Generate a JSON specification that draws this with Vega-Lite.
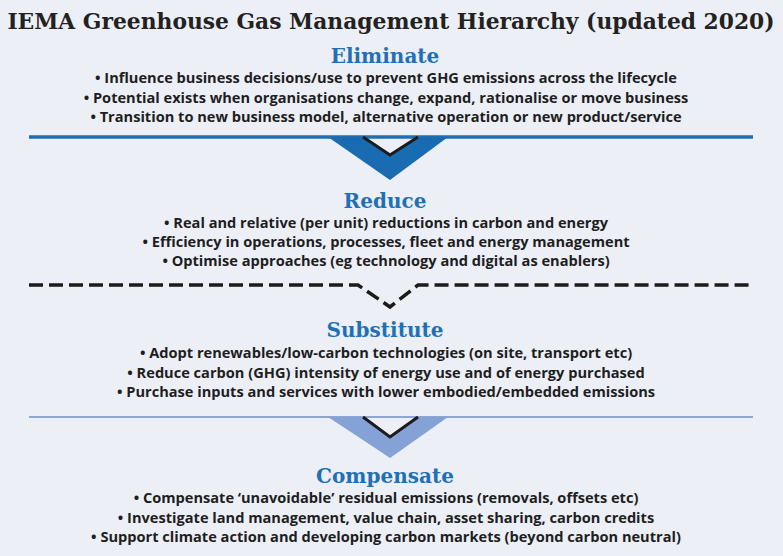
{
  "$schema": "https://vega.github.io/schema/vega-lite/v6.json",
  "width": 783,
  "height": 556,
  "autosize": {"type": "none"},
  "padding": 0,
  "background": "#edeff7",
  "config": {"view": {"stroke": null}},
  "datasets": {
    "chevBlue": [
      {"x": 328, "top": 137, "bot": 137},
      {"x": 363, "top": 137, "bot": 161.3},
      {"x": 390, "top": 155, "bot": 180},
      {"x": 418, "top": 137, "bot": 159.2},
      {"x": 448, "top": 137, "bot": 137}
    ],
    "chevLight": [
      {"x": 328, "top": 417, "bot": 417},
      {"x": 363, "top": 417, "bot": 440.1},
      {"x": 390, "top": 437, "bot": 458},
      {"x": 418, "top": 417, "bot": 438.2},
      {"x": 448, "top": 417, "bot": 417}
    ],
    "innerV": [
      {"g": "a", "o": 1, "x": 363, "y": 137},
      {"g": "a", "o": 2, "x": 390, "y": 155},
      {"g": "a", "o": 3, "x": 418, "y": 137},
      {"g": "b", "o": 1, "x": 363, "y": 417},
      {"g": "b", "o": 2, "x": 390, "y": 437},
      {"g": "b", "o": 3, "x": 418, "y": 417}
    ],
    "rules": [
      {"x": 29, "x2": 753, "y": 137, "c": "blue"},
      {"x": 29, "x2": 753, "y": 417, "c": "light"}
    ],
    "dashed": [
      {"o": 1, "x": 29, "y": 285},
      {"o": 2, "x": 358, "y": 285},
      {"o": 3, "x": 390, "y": 307},
      {"o": 4, "x": 418, "y": 285},
      {"o": 5, "x": 753, "y": 285}
    ],
    "title": [
      {"x": 391, "y": 22, "text": "IEMA Greenhouse Gas Management Hierarchy (updated 2020)"}
    ],
    "heads": [
      {"x": 385, "y": 57, "text": "Eliminate"},
      {"x": 385, "y": 202, "text": "Reduce"},
      {"x": 385, "y": 331, "text": "Substitute"},
      {"x": 385, "y": 477, "text": "Compensate"}
    ],
    "bullets": [
      {"x": 386, "y": 79, "text": "• Influence business decisions/use to prevent GHG emissions across the lifecycle"},
      {"x": 386, "y": 98.5, "text": "• Potential exists when organisations change, expand, rationalise or move business"},
      {"x": 386, "y": 117.5, "text": "• Transition to new business model, alternative operation or new product/service"},
      {"x": 386, "y": 224, "text": "• Real and relative (per unit) reductions in carbon and energy"},
      {"x": 386, "y": 243, "text": "• Efficiency in operations, processes, fleet and energy management"},
      {"x": 386, "y": 262, "text": "• Optimise approaches (eg technology and digital as enablers)"},
      {"x": 386, "y": 354, "text": "• Adopt renewables/low-carbon technologies (on site, transport etc)"},
      {"x": 386, "y": 373.5, "text": "• Reduce carbon (GHG) intensity of energy use and of energy purchased"},
      {"x": 386, "y": 393, "text": "• Purchase inputs and services with lower embodied/embedded emissions"},
      {"x": 386, "y": 499, "text": "• Compensate ‘unavoidable’ residual emissions (removals, offsets etc)"},
      {"x": 386, "y": 518.5, "text": "• Investigate land management, value chain, asset sharing, carbon credits"},
      {"x": 386, "y": 538, "text": "• Support climate action and developing carbon markets (beyond carbon neutral)"}
    ]
  },
  "layer": [
    {
      "data": {"name": "rules"},
      "mark": {"type": "rule"},
      "encoding": {
        "x": {"field": "x", "type": "quantitative", "scale": {"domain": [0, 783], "nice": false, "zero": false}, "axis": null},
        "x2": {"field": "x2"},
        "y": {"field": "y", "type": "quantitative", "scale": {"domain": [0, 556], "reverse": true, "nice": false, "zero": false}, "axis": null},
        "color": {"field": "c", "type": "nominal", "scale": {"domain": ["blue", "light"], "range": ["#1f6fb3", "#8ea7d2"]}, "legend": null},
        "strokeWidth": {"field": "c", "type": "nominal", "scale": {"domain": ["blue", "light"], "range": [3.5, 2]}, "legend": null}
      }
    },
    {
      "data": {"name": "chevBlue"},
      "mark": {"type": "area", "color": "#1a6cb2", "orient": "vertical"},
      "encoding": {
        "x": {"field": "x", "type": "quantitative"},
        "y": {"field": "top", "type": "quantitative", "stack": null},
        "y2": {"field": "bot"}
      }
    },
    {
      "data": {"name": "chevLight"},
      "mark": {"type": "area", "color": "#84a2d6", "orient": "vertical"},
      "encoding": {
        "x": {"field": "x", "type": "quantitative"},
        "y": {"field": "top", "type": "quantitative", "stack": null},
        "y2": {"field": "bot"}
      }
    },
    {
      "data": {"name": "innerV"},
      "mark": {"type": "line", "color": "#1b1b1b", "strokeWidth": 3, "strokeJoin": "miter"},
      "encoding": {
        "x": {"field": "x", "type": "quantitative"},
        "y": {"field": "y", "type": "quantitative"},
        "detail": {"field": "g"},
        "order": {"field": "o"}
      }
    },
    {
      "data": {"name": "dashed"},
      "mark": {"type": "line", "color": "#1b1b1b", "strokeWidth": 3.5, "strokeDash": [14, 6]},
      "encoding": {
        "x": {"field": "x", "type": "quantitative"},
        "y": {"field": "y", "type": "quantitative"},
        "order": {"field": "o"}
      }
    },
    {
      "data": {"name": "title"},
      "mark": {"type": "text", "font": "DejaVu Serif", "fontWeight": "bold", "fontSize": 21.8, "color": "#222222", "align": "center", "baseline": "middle"},
      "encoding": {
        "x": {"field": "x", "type": "quantitative"},
        "y": {"field": "y", "type": "quantitative"},
        "text": {"field": "text"}
      }
    },
    {
      "data": {"name": "heads"},
      "mark": {"type": "text", "font": "DejaVu Serif", "fontWeight": "bold", "fontSize": 20, "color": "#1f70b5", "align": "center", "baseline": "middle"},
      "encoding": {
        "x": {"field": "x", "type": "quantitative"},
        "y": {"field": "y", "type": "quantitative"},
        "text": {"field": "text"}
      }
    },
    {
      "data": {"name": "bullets"},
      "mark": {"type": "text", "font": "Open Sans", "fontWeight": "bold", "fontSize": 14.6, "color": "#1e1e1e", "align": "center", "baseline": "middle"},
      "encoding": {
        "x": {"field": "x", "type": "quantitative"},
        "y": {"field": "y", "type": "quantitative"},
        "text": {"field": "text"}
      }
    }
  ]
}
